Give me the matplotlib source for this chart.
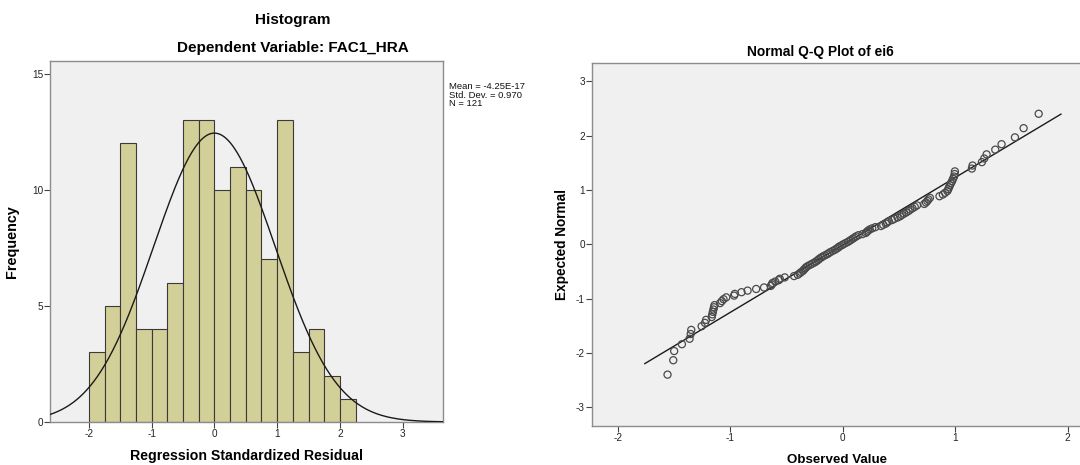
import matplotlib
matplotlib.use("Agg")
import matplotlib.pyplot as plt
import numpy as np

plt.rcParams['font.family'] = ['Liberation Sans', 'DejaVu Sans']
plt.rcParams['axes.unicode_minus'] = False

# histogram of regression standardized residuals
bin_edges = [-2.0, -1.75, -1.5, -1.25, -1.0, -0.75, -0.5, -0.25, 0.0,
             0.25, 0.5, 0.75, 1.0, 1.25, 1.5, 1.75, 2.0, 2.25]
counts = [3, 5, 12, 4, 4, 6, 13, 13, 10, 11, 10, 7, 13, 3, 4, 2, 1]
hist_mean = -4.25e-17
hist_sd = 0.970
hist_n = 121

# Q-Q plot of ei6: observed value vs expected normal
observed = [
    -1.558, -1.507, -1.499, -1.43, -1.362, -1.352, -1.347, -1.255, -1.225, -1.215,
    -1.165, -1.16, -1.155, -1.15, -1.145, -1.14, -1.09, -1.075, -1.06, -1.036,
    -0.966, -0.96, -0.90, -0.846, -0.77, -0.70, -0.64, -0.63, -0.625, -0.60,
    -0.568, -0.56, -0.516, -0.433, -0.40, -0.385, -0.37, -0.355, -0.345, -0.335,
    -0.325, -0.31, -0.29, -0.27, -0.25, -0.235, -0.22, -0.21, -0.195, -0.18,
    -0.16, -0.14, -0.125, -0.11, -0.09, -0.07, -0.055, -0.04, -0.03, -0.01,
    0.006,
    0.025, 0.045, 0.06, 0.075, 0.09, 0.105, 0.12, 0.14, 0.175, 0.205,
    0.215, 0.226, 0.24, 0.262, 0.29, 0.34, 0.36, 0.383, 0.395, 0.41,
    0.44, 0.46, 0.487, 0.51, 0.525, 0.545, 0.565, 0.585, 0.60, 0.62,
    0.64, 0.66, 0.725, 0.74, 0.752, 0.762, 0.775, 0.86, 0.89, 0.91,
    0.93, 0.938, 0.945, 0.953, 0.962, 0.972, 0.98, 0.99, 0.995, 0.997,
    1.148, 1.154, 1.237, 1.258, 1.279, 1.356, 1.412, 1.531, 1.608, 1.742]
expected = [
    -2.40, -2.135, -1.966, -1.84, -1.74, -1.653, -1.577, -1.51, -1.448, -1.392,
    -1.34, -1.291, -1.245, -1.202, -1.16, -1.121, -1.083, -1.047, -1.012, -0.978,
    -0.946, -0.914, -0.883, -0.854, -0.824, -0.796, -0.768, -0.741, -0.714, -0.687,
    -0.661, -0.636, -0.611, -0.586, -0.562, -0.538, -0.514, -0.491, -0.468, -0.445,
    -0.423, -0.401, -0.379, -0.357, -0.335, -0.314, -0.292, -0.271, -0.25, -0.229,
    -0.207, -0.186, -0.166, -0.145, -0.124, -0.103, -0.082, -0.062, -0.041, -0.021,
    0.0,
    0.021, 0.041, 0.062, 0.082, 0.103, 0.124, 0.145, 0.166, 0.186, 0.207,
    0.229, 0.25, 0.271, 0.292, 0.314, 0.335, 0.357, 0.379, 0.401, 0.423,
    0.445, 0.468, 0.491, 0.514, 0.538, 0.562, 0.586, 0.611, 0.636, 0.661,
    0.687, 0.714, 0.741, 0.768, 0.796, 0.824, 0.854, 0.883, 0.914, 0.946,
    0.978, 1.012, 1.047, 1.083, 1.121, 1.16, 1.202, 1.245, 1.291, 1.34,
    1.392, 1.448, 1.51, 1.577, 1.653, 1.74, 1.84, 1.966, 2.135, 2.40]
qq_mean = 0.011
qq_sd = 0.806
qq_line_x = [-1.76, 1.94]

bg = '#f0f0f0'
spine_col = '#8c8c8c'
tick_col = '#222222'

fig = plt.figure(figsize=(10.8, 4.65), dpi=100)

def style(ax):
    ax.set_facecolor(bg)
    for s in ax.spines.values():
        s.set_color(spine_col)
        s.set_linewidth(1.0)
    ax.tick_params(direction='out', length=4, width=0.8, color='#444444',
                   labelsize=7.2, labelcolor=tick_col, pad=1)

# ---- left: histogram ----
ax1 = fig.add_axes([0.0463, 0.0925, 0.3637, 0.7765])
style(ax1)
edges = np.array(bin_edges)
ax1.bar(edges[:-1], counts, width=np.diff(edges), align='edge',
        color='#d3cf98', edgecolor='#3a3a3a', linewidth=0.8, zorder=2)
xs = np.linspace(-2.62, 3.64, 400)
pdf = np.exp(-0.5 * ((xs - hist_mean) / hist_sd) ** 2) / (hist_sd * np.sqrt(2 * np.pi))
ax1.plot(xs, pdf * hist_n * (edges[1] - edges[0]), color='#1a1a1a', lw=1.0, zorder=3)
ax1.set_xlim(-2.62, 3.64)
ax1.set_ylim(0, 15.55)
ax1.set_xticks([-2, -1, 0, 1, 2, 3])
ax1.set_yticks([0, 5, 10, 15])
ax1.set_xlabel('Regression Standardized Residual', fontsize=10.2, fontweight='bold', labelpad=7)
ax1.set_ylabel('Frequency', fontsize=10.4, fontweight='bold', labelpad=9)
fig.text(293 / 1080, 1 - 20 / 465, 'Histogram', ha='center', va='center',
         fontsize=11, fontweight='bold')
fig.text(293 / 1080, 1 - 48 / 465, 'Dependent Variable: FAC1_HRA', ha='center', va='center',
         fontsize=11, fontweight='bold')
fig.text(449 / 1080, 1 - 82 / 465,
         'Mean = %.2E\nStd. Dev. = %.3f\nN = %d' % (hist_mean, hist_sd, hist_n),
         ha='left', va='top', fontsize=6.8, linespacing=0.95, color='#111111')

# ---- right: normal Q-Q plot ----
ax2 = fig.add_axes([0.5481, 0.0845, 0.4530, 0.7795])
style(ax2)
ax2.spines['right'].set_visible(False)
lx = np.array(qq_line_x)
ax2.plot(lx, (lx - qq_mean) / qq_sd, color='#1a1a1a', lw=1.0, zorder=2)
ax2.scatter(observed, expected, s=26, facecolors='none', edgecolors='#4a4a4a',
            linewidths=0.9, zorder=3)
ax2.set_xlim(-2.23, 2.12)
ax2.set_ylim(-3.34, 3.33)
ax2.set_xticks([-2, -1, 0, 1, 2])
ax2.set_yticks([-3, -2, -1, 0, 1, 2, 3])
ax2.set_xlabel('Observed Value', fontsize=9.6, fontweight='bold', labelpad=8)
ax2.set_ylabel('Expected Normal', fontsize=9.8, fontweight='bold', labelpad=5)
fig.text(820 / 1080, 1 - 52 / 465, 'Normal Q-Q Plot of ei6', ha='center', va='center',
         fontsize=9.9, fontweight='bold')

fig.savefig('out.png', dpi=100, facecolor='white')
